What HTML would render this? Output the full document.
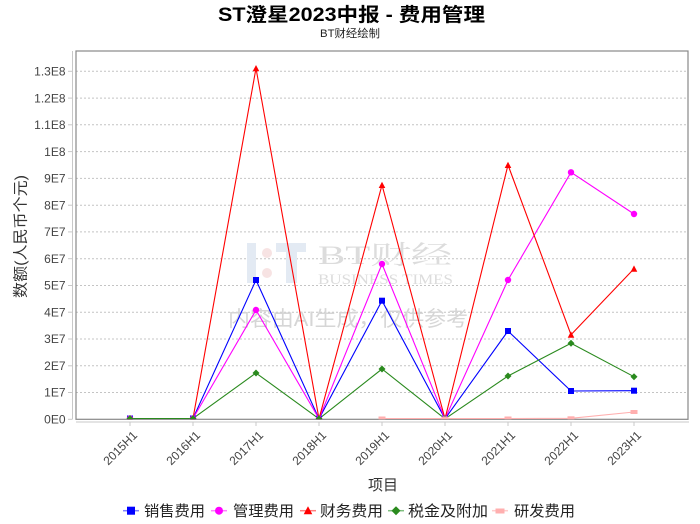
<!DOCTYPE html>
<html><head><meta charset="utf-8"><style>
html,body{margin:0;padding:0;background:#fff;}
svg{display:block;}
text{font-family:"Liberation Sans","Noto Sans CJK SC",sans-serif;}
</style></head><body>
<svg width="700" height="524" viewBox="0 0 700 524" xmlns="http://www.w3.org/2000/svg">
<defs><clipPath id="pc"><rect x="76" y="51" width="612" height="368.3"/></clipPath></defs>
<rect width="700" height="524" fill="#fff"/>
<text x="351.5" y="21" font-size="19" font-weight="bold" text-anchor="middle" textLength="267" lengthAdjust="spacingAndGlyphs" fill="#000">ST澄星2023中报 - 费用管理</text>
<text x="350" y="37" font-size="11" text-anchor="middle" textLength="60" lengthAdjust="spacingAndGlyphs" fill="#222">BT财经绘制</text>

<!-- gridlines -->
<g stroke="#c4c4c4" stroke-width="1" stroke-dasharray="2,2">
<line x1="76" x2="688" y1="71.3" y2="71.3"/><line x1="76" x2="688" y1="98.1" y2="98.1"/><line x1="76" x2="688" y1="124.8" y2="124.8"/><line x1="76" x2="688" y1="151.6" y2="151.6"/><line x1="76" x2="688" y1="178.4" y2="178.4"/><line x1="76" x2="688" y1="205.2" y2="205.2"/><line x1="76" x2="688" y1="231.9" y2="231.9"/><line x1="76" x2="688" y1="258.7" y2="258.7"/><line x1="76" x2="688" y1="285.5" y2="285.5"/><line x1="76" x2="688" y1="312.2" y2="312.2"/><line x1="76" x2="688" y1="339" y2="339"/><line x1="76" x2="688" y1="365.8" y2="365.8"/><line x1="76" x2="688" y1="392.5" y2="392.5"/>
</g>

<!-- watermark -->
<g>
<rect x="247" y="243" width="9" height="40" fill="#e3eaf3"/>
<circle cx="267" cy="253" r="5" fill="#f7e3e3"/>
<circle cx="267" cy="273" r="5" fill="#f7e3e3"/>
<rect x="276" y="243" width="30" height="9" fill="#e3eaf3"/>
<rect x="286" y="243" width="11" height="40" fill="#e3eaf3"/>
<text x="318" y="264" style="font-family:'Liberation Serif','Noto Serif CJK SC',serif" font-size="26" textLength="134" lengthAdjust="spacingAndGlyphs" fill="#dcdcdc">BT财经</text>
<text x="318" y="284" style="font-family:'Liberation Serif',serif" font-size="15" textLength="135" lengthAdjust="spacingAndGlyphs" fill="#dcdcdc">BUSINESS TIMES</text>
<text x="228" y="326" font-size="21" textLength="240" lengthAdjust="spacingAndGlyphs" fill="#d6d6d6">内容由AI生成，仅供参考</text>
</g>

<!-- frame -->
<rect x="76" y="51" width="612" height="368.3" fill="none" stroke="#888" stroke-width="1.2"/>
<line x1="72.5" y1="51" x2="72.5" y2="419.5" stroke="#c8c8c8" stroke-width="1"/>
<line x1="76" y1="422" x2="689" y2="422" stroke="#c8c8c8" stroke-width="1"/>

<!-- y ticks -->
<g stroke="#c8c8c8" stroke-width="1">
<line x1="68" x2="72" y1="71.3" y2="71.3"/><line x1="68" x2="72" y1="98.1" y2="98.1"/><line x1="68" x2="72" y1="124.8" y2="124.8"/><line x1="68" x2="72" y1="151.6" y2="151.6"/><line x1="68" x2="72" y1="178.4" y2="178.4"/><line x1="68" x2="72" y1="205.2" y2="205.2"/><line x1="68" x2="72" y1="231.9" y2="231.9"/><line x1="68" x2="72" y1="258.7" y2="258.7"/><line x1="68" x2="72" y1="285.5" y2="285.5"/><line x1="68" x2="72" y1="312.2" y2="312.2"/><line x1="68" x2="72" y1="339" y2="339"/><line x1="68" x2="72" y1="365.8" y2="365.8"/><line x1="68" x2="72" y1="392.5" y2="392.5"/><line x1="68" x2="72" y1="419.3" y2="419.3"/>
</g>
<g font-size="12" fill="#444" text-anchor="end">
<text x="65.5" y="75.5">1.3E8</text><text x="65.5" y="102.3">1.2E8</text><text x="65.5" y="129">1.1E8</text><text x="65.5" y="155.8">1E8</text><text x="65.5" y="182.6">9E7</text><text x="65.5" y="209.4">8E7</text><text x="65.5" y="236.1">7E7</text><text x="65.5" y="262.9">6E7</text><text x="65.5" y="289.7">5E7</text><text x="65.5" y="316.4">4E7</text><text x="65.5" y="343.2">3E7</text><text x="65.5" y="370">2E7</text><text x="65.5" y="396.7">1E7</text><text x="65.5" y="423.5">0E0</text>
</g>

<!-- x ticks -->
<g stroke="#c8c8c8" stroke-width="1">
<line x1="130" x2="130" y1="422" y2="426"/><line x1="193" x2="193" y1="422" y2="426"/><line x1="256" x2="256" y1="422" y2="426"/><line x1="319" x2="319" y1="422" y2="426"/><line x1="382" x2="382" y1="422" y2="426"/><line x1="445" x2="445" y1="422" y2="426"/><line x1="508" x2="508" y1="422" y2="426"/><line x1="571" x2="571" y1="422" y2="426"/><line x1="634" x2="634" y1="422" y2="426"/>
</g>
<g font-size="12" fill="#444" text-anchor="end">
<text transform="translate(138,436) rotate(-45)">2015H1</text>
<text transform="translate(201,436) rotate(-45)">2016H1</text>
<text transform="translate(264,436) rotate(-45)">2017H1</text>
<text transform="translate(327,436) rotate(-45)">2018H1</text>
<text transform="translate(390,436) rotate(-45)">2019H1</text>
<text transform="translate(453,436) rotate(-45)">2020H1</text>
<text transform="translate(516,436) rotate(-45)">2021H1</text>
<text transform="translate(579,436) rotate(-45)">2022H1</text>
<text transform="translate(642,436) rotate(-45)">2023H1</text>
</g>

<text transform="translate(25.5,236.5) rotate(-90)" font-size="15" text-anchor="middle" textLength="123" lengthAdjust="spacingAndGlyphs" fill="#333">数额(人民币个元)</text>
<text x="383" y="490" font-size="15" text-anchor="middle" textLength="30" lengthAdjust="spacingAndGlyphs" fill="#333">项目</text>

<!-- series -->
<g clip-path="url(#pc)" fill="none" stroke-width="1.1">
<polyline stroke="#0000ff" points="130,418.5 193,418.5 256,280 319,418.8 382,300.7 445,418.8 508,331 571,391 634,390.7"/>
<polyline stroke="#ff00ff" points="130,418.5 193,418.5 256,310 319,418.8 382,264 445,418.8 508,280 571,172.3 634,214"/>
<polyline stroke="#ff0000" points="130,418.5 193,418.5 256,68.3 319,418.8 382,185 445,418.8 508,165 571,334.7 634,268.7"/>
<polyline stroke="#2a8a1e" points="130,418.5 193,418.5 256,373 319,418.8 382,369 445,418.8 508,376 571,343.3 634,376.7"/>
<polyline stroke="#ffafaf" points="382,418.5 445,418.5 508,418.5 571,418.3 634,412"/>
</g>
<g clip-path="url(#pc)">
<g fill="#0000ff">
<rect x="127" y="415.5" width="6" height="6"/><rect x="190" y="415.5" width="6" height="6"/><rect x="253" y="277" width="6" height="6"/><rect x="316" y="415.8" width="6" height="6"/><rect x="379" y="297.7" width="6" height="6"/><rect x="442" y="415.8" width="6" height="6"/><rect x="505" y="328" width="6" height="6"/><rect x="568" y="388" width="6" height="6"/><rect x="631" y="387.7" width="6" height="6"/>
</g>
<g fill="#ff00ff">
<circle cx="130" cy="418.5" r="3.2"/><circle cx="193" cy="418.5" r="3.2"/><circle cx="256" cy="310" r="3.2"/><circle cx="319" cy="418.8" r="3.2"/><circle cx="382" cy="264" r="3.2"/><circle cx="445" cy="418.8" r="3.2"/><circle cx="508" cy="280" r="3.2"/><circle cx="571" cy="172.3" r="3.2"/><circle cx="634" cy="214" r="3.2"/>
</g>
<g fill="#ff0000">
<path d="M130,415.5 l3.3,6 h-6.6z"/><path d="M193,415.5 l3.3,6 h-6.6z"/><path d="M256,65 l3.3,6.3 h-6.6z"/><path d="M319,415.8 l3.3,6 h-6.6z"/><path d="M382,181.7 l3.3,6.3 h-6.6z"/><path d="M445,415.8 l3.3,6 h-6.6z"/><path d="M508,161.7 l3.3,6.3 h-6.6z"/><path d="M571,331.4 l3.3,6.3 h-6.6z"/><path d="M634,265.4 l3.3,6.3 h-6.6z"/>
</g>
<g fill="#2a8a1e">
<path d="M130,415 l3.5,3.5 l-3.5,3.5 l-3.5,-3.5z"/><path d="M193,415 l3.5,3.5 l-3.5,3.5 l-3.5,-3.5z"/><path d="M256,369.5 l3.5,3.5 l-3.5,3.5 l-3.5,-3.5z"/><path d="M319,415.3 l3.5,3.5 l-3.5,3.5 l-3.5,-3.5z"/><path d="M382,365.5 l3.5,3.5 l-3.5,3.5 l-3.5,-3.5z"/><path d="M445,415.3 l3.5,3.5 l-3.5,3.5 l-3.5,-3.5z"/><path d="M508,372.5 l3.5,3.5 l-3.5,3.5 l-3.5,-3.5z"/><path d="M571,339.8 l3.5,3.5 l-3.5,3.5 l-3.5,-3.5z"/><path d="M634,373.2 l3.5,3.5 l-3.5,3.5 l-3.5,-3.5z"/>
</g>
<g fill="#ffafaf">
<rect x="378.5" y="416.5" width="7" height="4"/><rect x="441.5" y="416.5" width="7" height="4"/><rect x="504.5" y="416.5" width="7" height="4"/><rect x="567.5" y="416.3" width="7" height="4"/><rect x="630.5" y="410" width="7" height="4"/>
</g>
</g>

<!-- legend -->
<g stroke-width="1.5">
<line x1="123" x2="139" y1="510.7" y2="510.7" stroke="#8080ff"/>
<rect x="127" y="506.7" width="8" height="8" fill="#0000ff"/>
<line x1="211" x2="227" y1="510.7" y2="510.7" stroke="#ff80ff"/>
<circle cx="219" cy="510.7" r="4" fill="#ff00ff"/>
<line x1="300" x2="316" y1="510.7" y2="510.7" stroke="#ff8080"/>
<path d="M308,506.2 l4.3,8 h-8.6z" fill="#ff0000"/>
<line x1="388" x2="404" y1="510.7" y2="510.7" stroke="#80c080"/>
<path d="M396,506.2 l4.5,4.5 l-4.5,4.5 l-4.5,-4.5z" fill="#2a8a1e"/>
<line x1="492" x2="508" y1="510.7" y2="510.7" stroke="#ffcccc"/>
<rect x="495.5" y="508.5" width="9" height="5" fill="#ffafaf"/>
</g>
<g font-size="15" fill="#222">
<text x="144" y="516" textLength="61" lengthAdjust="spacingAndGlyphs">销售费用</text>
<text x="233" y="516" textLength="61" lengthAdjust="spacingAndGlyphs">管理费用</text>
<text x="320" y="516" textLength="63" lengthAdjust="spacingAndGlyphs">财务费用</text>
<text x="408" y="516" textLength="80" lengthAdjust="spacingAndGlyphs">税金及附加</text>
<text x="514" y="516" textLength="61" lengthAdjust="spacingAndGlyphs">研发费用</text>
</g>
</svg>
</body></html>
